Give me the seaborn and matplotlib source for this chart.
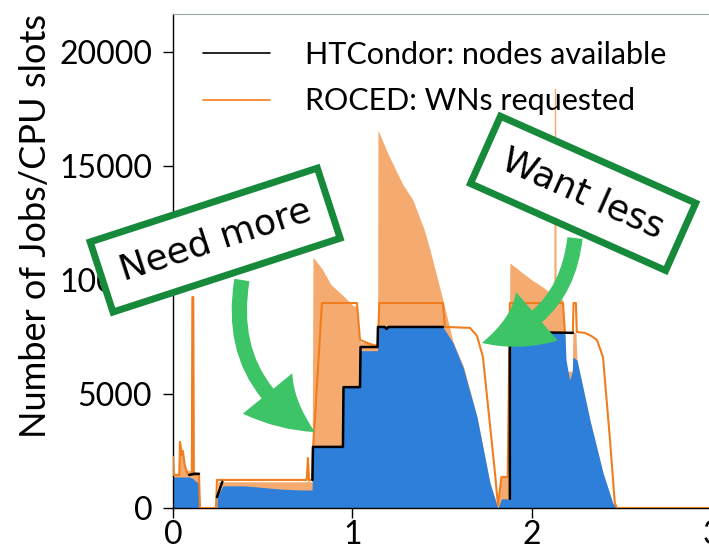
import pandas as pd
import matplotlib
matplotlib.use("Agg")
import matplotlib.pyplot as plt
from matplotlib.lines import Line2D
import seaborn as sns

# time in days
run_t = [0.0, 0.09, 0.11, 0.13, 0.145, 0.15, 0.245, 0.245, 0.279, 0.40, 0.50, 0.60, 0.708, 0.775,
         0.780, 0.947, 0.95, 1.042, 1.045, 1.14, 1.142, 1.504, 1.56, 1.616, 1.694, 1.766, 1.805,
         1.811, 1.83, 1.876, 1.877, 1.95, 2.06, 2.184, 2.19, 2.21, 2.225, 2.228, 2.251, 2.323,
         2.396, 2.451, 2.474, 3.2]
running = [1360, 1360, 1300, 1150, 1100, 0, 0, 480, 970, 970, 900, 830, 790, 790,
           2680, 2680, 5300, 5300, 6900, 6900, 7940, 7940, 7250, 6180, 3990, 1100, 130,
           0, 400, 400, 7800, 7720, 7720, 7700, 6490, 5610, 6000, 6620, 6490, 3860,
           1540, 200, 0, 0]

idle_t = [0.0, 0.035, 0.039, 0.05, 0.06, 0.072, 0.105, 0.108, 0.113, 0.116, 0.145, 0.15, 0.245,
          0.25, 0.75, 0.752, 0.758, 0.775, 0.780, 0.83, 0.88, 0.95, 1.00, 1.025, 1.035, 1.045,
          1.14, 1.142, 1.20, 1.28, 1.337, 1.40, 1.432, 1.504, 1.56, 1.62, 1.694, 1.766, 1.805,
          1.811, 1.83, 1.87, 1.877, 1.95, 2.00, 2.061, 2.11, 2.122, 2.125, 2.132, 2.135, 2.173,
          2.184, 2.225, 2.228, 2.245, 2.251, 2.323, 2.396, 2.451, 2.474, 3.2]
idle_top = [1500, 1500, 2900, 2300, 2000, 1700, 1600, 9250, 9250, 1600, 1500, 0, 0,
            1150, 1150, 2190, 1150, 1150, 11000, 10500, 9800, 9300, 8900, 8820, 7400, 7280,
            7200, 16580, 15500, 14200, 13510, 12200, 11320, 9120, 7300, 6180, 3990, 1100, 130,
            0, 1360, 1360, 10750, 10300, 10000, 9690, 9400, 9350, 18400, 18400, 9300, 9120,
            6000, 6000, 7700, 7700, 6490, 3860, 1540, 200, 0, 0]

roced_t = [0.0, 0.005, 0.035, 0.039, 0.05, 0.055, 0.065, 0.072, 0.08, 0.105, 0.108, 0.113, 0.116,
           0.145, 0.15, 0.24, 0.245, 0.745, 0.752, 0.758, 0.775, 0.780, 0.830, 1.025, 1.042,
           1.14, 1.150, 1.504, 1.515, 1.655, 1.694, 1.727, 1.794, 1.811, 1.83, 1.865, 1.877,
           2.173, 2.184, 2.228, 2.232, 2.245, 2.25, 2.295, 2.33, 2.362, 2.396, 2.435, 2.462,
           2.474, 3.2]
roced = [2240, 1450, 1450, 2900, 2300, 2500, 1900, 1700, 1500, 1450, 9250, 9250, 1450,
         1450, 0, 0, 1230, 1230, 2190, 1230, 1230, 2540, 8990, 8990, 7370,
         7060, 8990, 8990, 7940, 7900, 7550, 6620, 1540, 100, 1360, 1360, 8990,
         8990, 7680, 7680, 8990, 8990, 7720, 7680, 7550, 7370, 6620, 2980, 200,
         0, 0]

condor_t = [0.09, 0.12, 0.145,
            0.245, 0.275,
            0.777, 0.780, 0.947, 0.95, 1.042, 1.045, 1.14, 1.142, 1.18, 1.19, 1.20, 1.504,
            1.877, 1.877, 1.90, 1.93, 2.0, 2.06, 2.228]
condor = [1450, 1500, 1500,
          480, 1150,
          1230, 2680, 2680, 5300, 5300, 7060, 7060, 7940, 7940, 7850, 7940, 7940,
          400, 7500, 7680, 7800, 7720, 7700, 7680]
condor_seg = [0] * 3 + [1] * 2 + [2] * 12 + [3] * 7

blue = "#2e7fd9"
orange_fill = "#f5ab70"
orange_line = "#f07d1e"
box_green = "#168a3a"
arrow_green = "#3cc466"

sns.set_style("ticks")
plt.rcParams["font.family"] = ["Lato", "DejaVu Sans"]
plt.rcParams.update({"text.color": "black", "axes.labelcolor": "black",
                     "xtick.color": "black", "ytick.color": "black"})

fig = plt.figure(figsize=(7.09, 5.57), dpi=100)
ax = fig.add_axes([0.244, 0.088, 0.810, 0.887])

ax.fill_between(idle_t, 0, idle_top, color=orange_fill, lw=0, zorder=1)
ax.fill_between(run_t, 0, running, color=blue, lw=0, zorder=2)

df_roced = pd.DataFrame({"t": roced_t, "n": roced})
sns.lineplot(data=df_roced, x="t", y="n", color=orange_line, lw=1.5, sort=False,
             estimator=None, ax=ax, zorder=3)
df_condor = pd.DataFrame({"t": condor_t, "n": condor, "seg": condor_seg})
sns.lineplot(data=df_condor, x="t", y="n", units="seg", color="black", lw=1.8, sort=False,
             estimator=None, ax=ax, zorder=4)

ax.set_xlim(0, 3.2)
ax.set_ylim(0, 21670)
ax.set_xticks([0, 1, 2, 3])
ax.set_yticks([0, 5000, 10000, 15000, 20000])
ax.tick_params(labelsize=23, length=7, width=1, direction="out")
ax.tick_params(axis="y", pad=8)
ax.tick_params(axis="x", pad=2)
ax.set_xlabel("")
ax.set_ylabel("Number of Jobs/CPU slots", fontsize=26)
ax.yaxis.set_label_coords(-0.21, 0.57)
for s in ["left", "bottom"]:
    ax.spines[s].set_color("black")
    ax.spines[s].set_linewidth(1)
ax.spines["top"].set_color("#9aa5a5")
ax.spines["right"].set_visible(False)

handles = [Line2D([], [], color="black", lw=1.2), Line2D([], [], color=orange_line, lw=1.2)]
ax.legend(handles, ["HTCondor: nodes available", "ROCED: WNs requested"], loc="upper left",
          bbox_to_anchor=(0.052, 0.945), frameon=False, fontsize=22, handlelength=2.2,
          handletextpad=1.15, labelspacing=0.6, borderpad=0, borderaxespad=0)

arrow_kw = dict(color=arrow_green, mutation_scale=1, shrinkA=0, shrinkB=0, lw=0)
ax.annotate("", xy=(0.791, 3330), xytext=(0.384, 10000), zorder=8,
            arrowprops=dict(arrowstyle="simple,head_length=44,head_width=46,tail_width=11",
                            connectionstyle="arc3,rad=0.35", **arrow_kw))
ax.annotate("", xy=(1.721, 7240), xytext=(2.24, 11840), zorder=8,
            arrowprops=dict(arrowstyle="simple,head_length=44,head_width=46,tail_width=11",
                            connectionstyle="arc3,rad=-0.35", **arrow_kw))

box_kw = dict(boxstyle="square,pad=0.55", fc="white", ec=box_green, lw=5)
ax.text(0.235, 11750, "Need more", rotation=18, rotation_mode="anchor", ha="center",
        va="center", fontsize=26, color="black", family=["DejaVu Sans"], bbox=box_kw, zorder=10)
ax.text(2.285, 13800, "Want less", rotation=-24, rotation_mode="anchor", ha="center",
        va="center", fontsize=26, color="black", family=["DejaVu Sans"], bbox=box_kw, zorder=10)

fig.savefig("out.png", dpi=100)
